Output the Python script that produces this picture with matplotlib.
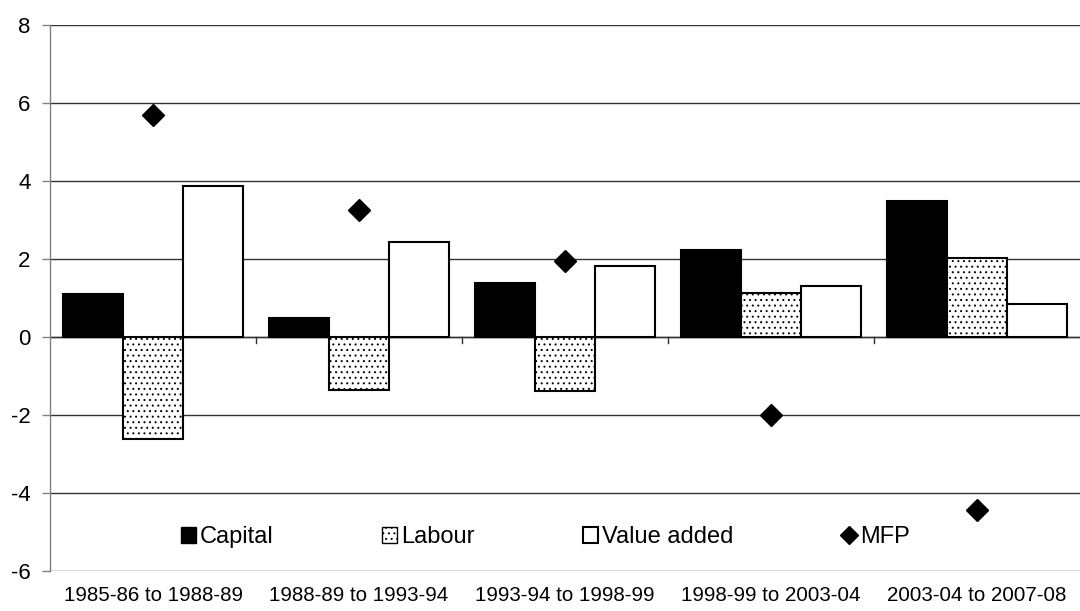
import matplotlib
matplotlib.use("Agg")
import matplotlib.pyplot as plt
from matplotlib.lines import Line2D
from matplotlib.patches import Patch
import numpy as np

plt.rcParams['font.family'] = ['Liberation Sans', 'DejaVu Sans']
plt.rcParams['hatch.linewidth'] = 0.7

categories = ["1985-86 to 1988-89", "1988-89 to 1993-94", "1993-94 to 1998-99",
              "1998-99 to 2003-04", "2003-04 to 2007-08"]
capital = [1.10, 0.50, 1.38, 2.22, 3.50]
labour = [-2.61, -1.36, -1.38, 1.12, 2.02]
value_added = [3.86, 2.43, 1.81, 1.30, 0.84]
mfp = [5.68, 3.25, 1.95, -1.99, -4.43]
yticks = [-6, -4, -2, 0, 2, 4, 6, 8]

fig = plt.figure(figsize=(10.8, 6.11), dpi=100)
ax = fig.add_axes([50/1080, 1 - 571/611, 1030/1080, 546/611])

x = np.arange(len(categories))
w = 0.29
ax.bar(x - w, capital, w, color='black', edgecolor='black', linewidth=1.5, zorder=3)
ax.bar(x, labour, w, color='white', edgecolor='black', hatch='...', linewidth=1.5, zorder=3)
ax.bar(x + w, value_added, w, color='white', edgecolor='black', linewidth=1.5, zorder=3)
ax.plot(x, mfp, linestyle='none', marker='D', markersize=11, color='black', zorder=4)

ax.set_xlim(-0.5, len(categories) - 0.5)
ax.set_ylim(-6, 8)
ax.set_yticks(yticks)
ax.set_yticklabels([str(v) for v in yticks], fontsize=16)
ax.yaxis.grid(True, color='#333333', linewidth=1.0, zorder=0)
ax.set_axisbelow(True)

# zero axis with category separators
ax.axhline(0, color='#333333', linewidth=1.0, zorder=2)
for b in np.arange(0.5, len(categories) - 0.5, 1.0):
    ax.plot([b, b], [0, -0.15], color='#333333', linewidth=1.0, zorder=2)

ax.set_xticks(x)
ax.set_xticklabels(categories, fontsize=14.8)
ax.tick_params(axis='x', length=0, pad=11)
ax.tick_params(axis='y', length=6, color='#808080', width=1.0, pad=8)

for s in ['top', 'right', 'bottom']:
    ax.spines[s].set_visible(False)
ax.spines['left'].set_color('#808080')
ax.spines['left'].set_linewidth(1.0)

handles = [
    Patch(facecolor='black', edgecolor='black', label='Capital'),
    Patch(facecolor='white', edgecolor='black', hatch='...', label='Labour'),
    Patch(facecolor='white', edgecolor='black', linewidth=1.5, label='Value added'),
    Line2D([], [], linestyle='none', marker='D', markersize=9, color='black', label='MFP'),
]
leg = ax.legend(handles=handles, loc='center', bbox_to_anchor=(0.481, 0.062), ncol=4,
                frameon=False, fontsize=17, handlelength=0.65, handleheight=0.7,
                handletextpad=0.15, columnspacing=4.6)

fig.savefig('out.png', dpi=100)
